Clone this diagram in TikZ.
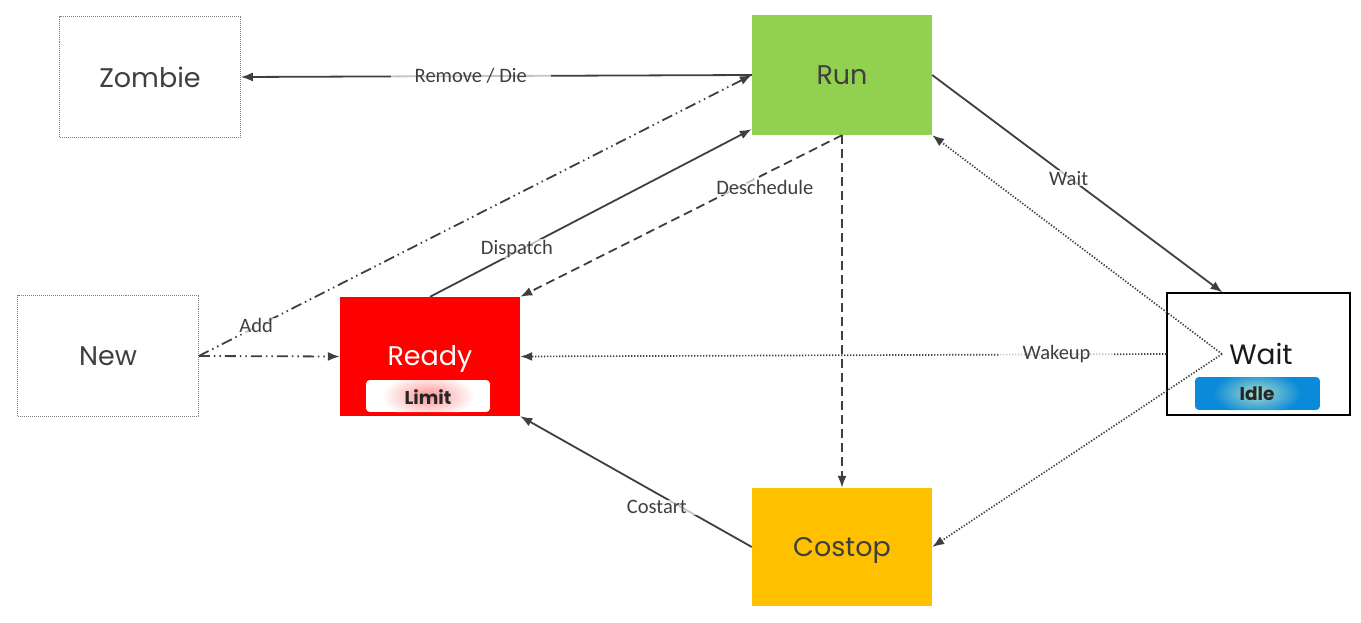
\documentclass[tikz,border=0pt]{standalone}
\usepackage{fontspec}
\setmainfont{Poppins}
\newfontfamily\lblfont{Carlito}
\usetikzlibrary{arrows.meta}
\definecolor{ink}{HTML}{3F3F3F}
\definecolor{rungreen}{HTML}{92D050}
\definecolor{readyred}{HTML}{FF0000}
\definecolor{costopyel}{HTML}{FFC000}
\definecolor{idleblue}{HTML}{0A8AD8}
\definecolor{mint}{HTML}{A6DCCB}
\tikzset{
  statebox/.style={minimum width=181pt, minimum height=121pt, inner sep=0pt,
    font=\fontsize{27}{30}\selectfont, text=ink, text depth=0pt},
  ghostbox/.style={statebox, draw=gray, dash pattern=on 1pt off 1pt, line width=0.6pt},
  conn/.style={draw=ink, line width=1.8pt, -{Latex[length=12pt,width=9pt]}},
  solidc/.style={conn},
  dashc/.style={conn, dash pattern=on 9pt off 5pt},
  dotc/.style={conn, line width=1.7pt, dash pattern=on 1.3pt off 1.7pt},
  ddotc/.style={conn, dash pattern=on 11pt off 4pt on 1.5pt off 4pt on 1.5pt off 4pt},
  lbl/.style={font=\lblfont\fontsize{20.5}{22}\selectfont, text=ink, fill=white,
    fill opacity=0.7, text opacity=1, inner xsep=24pt, inner ysep=1pt},
  tagtxt/.style={font=\bfseries\fontsize{18.5}{20}\selectfont, text=black!85, inner sep=0pt}
}
\begin{document}
\begin{tikzpicture}[x=1pt, y=-1pt]
\useasboundingbox (0,0) rectangle (1361,623);
% states
\node[ghostbox] (zombie) at (150,77) {Zombie};
\node[ghostbox] (new) at (108,356) {New};
\node[statebox, fill=rungreen, minimum width=180pt, minimum height=120pt] (run) at (842,75) {Run};
\node[statebox, fill=costopyel, minimum width=180pt, minimum height=118pt] (costop) at (842,547) {Costop};
\node[statebox, fill=readyred, minimum width=180pt, minimum height=119pt] (ready) at (430,356.5) {};
\node[text=white, font=\fontsize{27}{30}\selectfont, text depth=0pt] (readytxt) at (430,356) {Ready};
\node[statebox, draw=black, line width=1.1pt, minimum width=183pt, minimum height=122pt] (wait) at (1258.5,354) {};
\node[text=black!90, font=\fontsize{28}{30}\selectfont, text depth=0pt] (waittxt) at (1261,354) {Wait};
% tags
\begin{scope}
  \clip[rounded corners=4pt] (366,380) rectangle (490,412);
  \fill[white] (366,380) rectangle (490,412);
  \shade[inner color=readyred!70, outer color=white] (428,396) ellipse (46pt and 22pt);
  \fill[white, opacity=0.4] (366,380) rectangle (490,412);
\end{scope}
\node[tagtxt] (limit) at (428,397) {Limit};
\begin{scope}
  \clip[rounded corners=4pt] (1195,377) rectangle (1320,410);
  \fill[idleblue] (1195,377) rectangle (1320,410);
  \shade[inner color=mint, outer color=idleblue] (1257,393) ellipse (44pt and 22pt);
\end{scope}
\node[tagtxt] (idle) at (1257,394) {Idle};
% interior point of Wait
\coordinate (wc) at (1222,354);
% connectors
\draw[solidc] (run.west) -- (zombie.east)
  node[lbl, pos=0.55] {Remove / Die};
\draw[ddotc] (new.east) -- (run.west)
  node[lbl, pos=0.10, xshift=2pt, yshift=2pt] {Add};
\draw[ddotc] (new.east) -- (ready.west);
\draw[solidc] (ready.north) -- ([yshift=6pt]run.south west)
  node[lbl, pos=0.27, yshift=3pt] {Dispatch};
\draw[dashc] (run.south) -- (ready.north east)
  node[lbl, pos=0.24, yshift=-13pt] {Deschedule};
\draw[dashc] (run.south) -- (costop.north);
\draw[solidc] (run.east) -- ([xshift=-36pt]wait.north)
  node[lbl, pos=0.47, yshift=-1pt] {Wait};
\draw[dotc] (wc) -- (run.south east);
\draw[dotc] (wait.west) -- (ready.east)
  node[lbl, pos=0.17] {Wakeup};
\draw[dotc] (wc) -- (costop.east);
\draw[solidc] (costop.west) -- (ready.south east)
  node[lbl, pos=0.41, yshift=-14pt] {Costart};
\end{tikzpicture}
\end{document}
